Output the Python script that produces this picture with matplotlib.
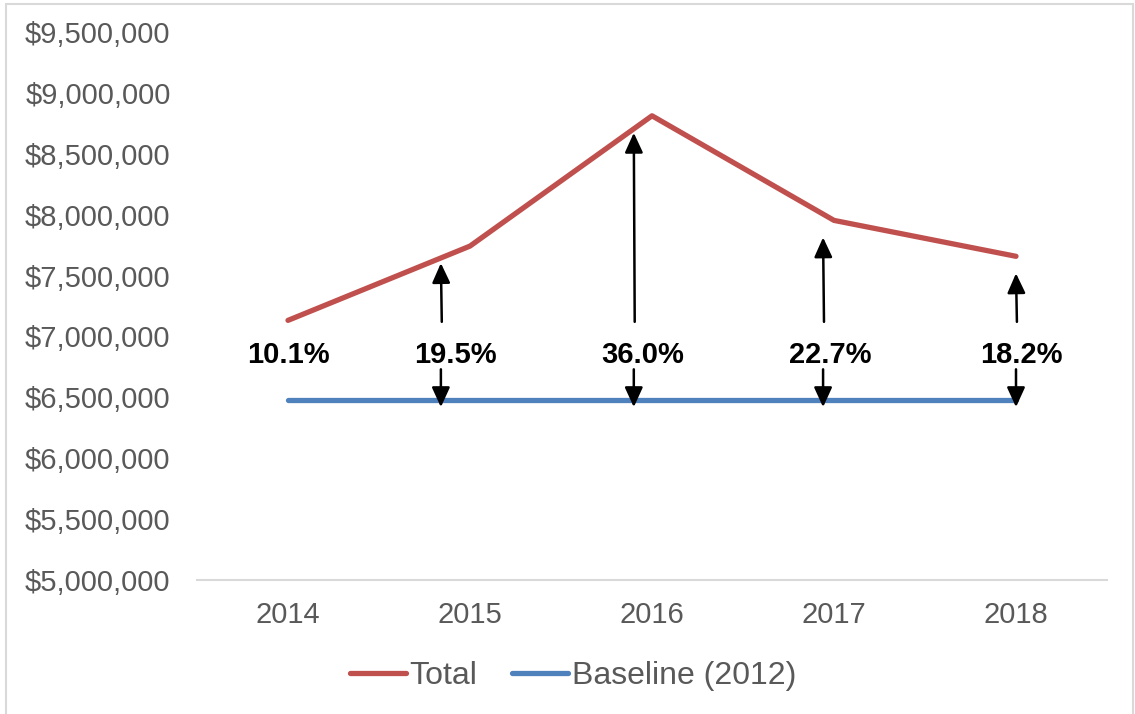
import matplotlib.pyplot as plt
from matplotlib.patches import Rectangle
from matplotlib.ticker import FuncFormatter

plt.rcParams['font.family'] = ['Liberation Sans', 'DejaVu Sans']

years = ['2014', '2015', '2016', '2017', '2018']
total = [7132000, 7742000, 8812000, 7953000, 7658000]
baseline = [6480000, 6480000, 6480000, 6480000, 6480000]
pct_labels = ['10.1%', '19.5%', '36.0%', '22.7%', '18.2%']

# where each percentage label sits (category units) and which ones get arrows
label_x = [0.0, 0.92, 1.95, 2.98, 4.03]
arrow_x = [None, 0.84, 1.90, 2.94, 4.0]

RED = '#C0504D'
BLUE = '#4F81BD'
GREY = '#595959'

fig = plt.figure(figsize=(11.35, 7.14), dpi=100)
ax = fig.add_axes([197 / 1135, 134 / 714, 910 / 1135, 548 / 714])

x = list(range(len(years)))
ax.plot(x, total, color=RED, lw=3.8, solid_capstyle='round', label='Total')
ax.plot(x, baseline, color=BLUE, lw=3.8, solid_capstyle='round', label='Baseline (2012)')

ax.set_xlim(-0.5, len(years) - 0.5)
ax.set_ylim(5000000, 9500000)
ax.set_yticks(range(5000000, 9500001, 500000))
ax.yaxis.set_major_formatter(FuncFormatter(lambda v, p: f'${v:,.0f}'))
ax.set_xticks(x)
ax.set_xticklabels(years)

for s in ['top', 'right', 'left']:
    ax.spines[s].set_visible(False)
ax.spines['bottom'].set_color('#D9D9D9')
ax.spines['bottom'].set_linewidth(1.5)
ax.tick_params(axis='both', length=0, colors=GREY, labelsize=21)
ax.tick_params(axis='y', pad=19)
ax.tick_params(axis='x', pad=15)

arrow_style = dict(arrowstyle='-|>,head_length=1.2,head_width=0.55',
                   color='black', lw=1.8, shrinkA=0, shrinkB=0)

label_y = 6850000
for i, txt in enumerate(pct_labels):
    ax.text(label_x[i], label_y, txt, ha='center', va='center',
            fontsize=21, fontweight='bold', color='black', zorder=5)
    if arrow_x[i] is None:
        continue
    xa = arrow_x[i]
    # up arrow towards the total line
    ax.annotate('', xy=(xa, total[i] - 140000), xytext=(xa + 0.005, label_y + 270000),
                arrowprops=arrow_style)
    # down arrow towards the baseline
    ax.annotate('', xy=(xa, baseline[i] - 60000), xytext=(xa, label_y - 120000),
                arrowprops=arrow_style)

leg = fig.legend(loc='center', bbox_to_anchor=(0.505, 0.053), ncol=2, frameon=False,
                 fontsize=23, handlelength=1.75, handletextpad=0.1, columnspacing=1.1)
for t in leg.get_texts():
    t.set_color(GREY)

# light outer frame around the chart area
fig.patches.append(Rectangle((6 / 1135, -0.01), 1127 / 1135, 1 - 4 / 714 + 0.01,
                             transform=fig.transFigure, fill=False,
                             edgecolor='#D9D9D9', lw=1.5))

fig.savefig('out.png', dpi=100)
